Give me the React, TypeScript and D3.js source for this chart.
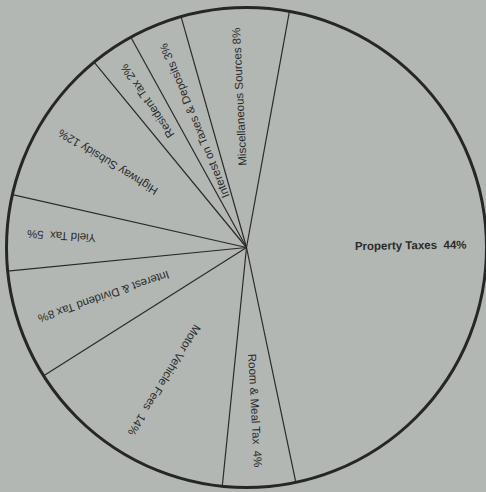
import { useRef, useEffect } from 'react';
import * as d3 from 'd3';

// revenue sources, clockwise from Property Taxes
const sources = [
  'Property Taxes',
  'Room & Meal Tax',
  'Motor Vehicle Fees',
  'Interest & Dividend Tax',
  'Yield Tax',
  'Highway Subsidy',
  'Resident Tax',
  'Interest on Taxes & Deposits',
  'Miscellaneous Sources',
];
// percentages printed on the chart
const shares = [44, 4, 14, 8, 5, 12, 2, 3, 8];
// wedge sizes as actually drawn in the original (percent of the circle)
const drawnShares = [43.8, 4.9, 14.4, 7.4, 5.1, 10.5, 2.95, 3.6, 7.25];
const labelGap = ['  ', '  ', '  ', ' ', '  ', ' ', ' ', ' ', ' '];

const width = 486;
const height = 492;

export default function App() {
  const ref = useRef<SVGSVGElement | null>(null);

  useEffect(() => {
    if (!ref.current) return;
    const svg = d3.select(ref.current);
    svg.selectAll('*').remove();

    const cx = 246.5;
    const cy = 247.5;
    const radius = 240;

    svg.append('rect').attr('width', width).attr('height', height).attr('fill', '#b3b7b4');

    const data = sources.map((name, i) => ({
      name,
      value: drawnShares[i],
      pct: shares[i],
      gap: labelGap[i],
    }));
    const start = (10.3 * Math.PI) / 180;
    const pie = d3
      .pie<any>()
      .sort(null)
      .value(d => d.value)
      .startAngle(start)
      .endAngle(start + 2 * Math.PI);
    const arcs = pie(data);

    const g = svg.append('g').attr('transform', `translate(${cx},${cy})`);

    // slice dividers
    g.selectAll('line.div')
      .data(arcs)
      .join('line')
      .attr('class', 'div')
      .attr('x1', 0)
      .attr('y1', 0)
      .attr('x2', d => radius * Math.sin(d.startAngle))
      .attr('y2', d => -radius * Math.cos(d.startAngle))
      .attr('stroke', '#2a2a2a')
      .attr('stroke-width', 1.2);

    g.append('circle')
      .attr('r', radius)
      .attr('fill', 'none')
      .attr('stroke', '#262626')
      .attr('stroke-width', 3);

    const labelR = 220;
    g.selectAll('text')
      .data(arcs)
      .join('text')
      .attr('transform', d => {
        const a = (d.startAngle + d.endAngle) / 2;
        const x = labelR * Math.sin(a);
        const y = -labelR * Math.cos(a);
        const rot = (a * 180) / Math.PI - 90;
        return `translate(${x},${y}) rotate(${rot})`;
      })
      .attr('text-anchor', 'end')
      .attr('dy', '0.35em')
      .attr('font-family', 'Liberation Sans, Arial, sans-serif')
      .attr('font-size', 11.5)
      .attr('font-weight', (d, i) => (i === 0 ? 'bold' : 'normal'))
      .attr('fill', '#2b2b2b')
      .style('white-space', 'pre')
      .text(d => `${d.data.name}${d.data.gap}${d.data.pct}%`);
  }, []);

  return (
    <svg
      ref={ref}
      width={width}
      height={height}
      style={{ position: 'absolute', left: 0, top: 0 }}
    />
  );
}
